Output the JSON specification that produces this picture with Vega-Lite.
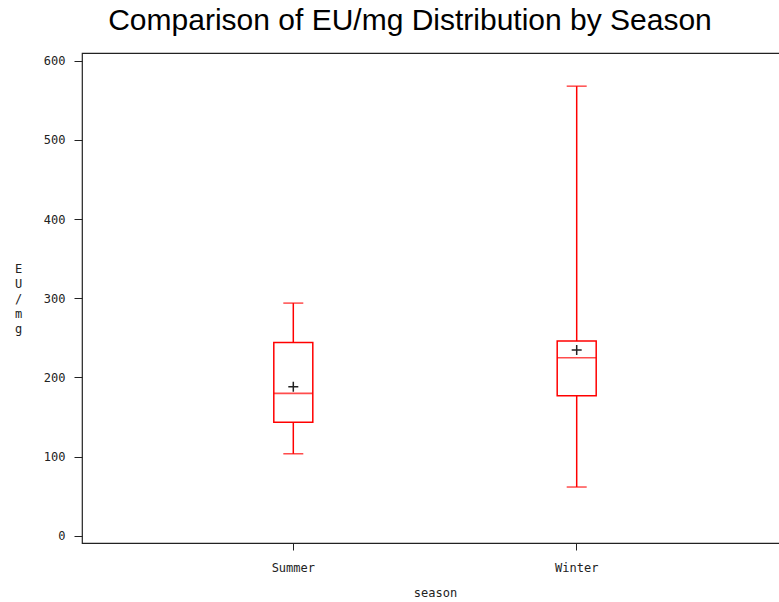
{
  "$schema": "https://vega.github.io/schema/vega-lite/v6.json",
  "autosize": "none",
  "width": 706,
  "height": 490,
  "padding": {"left": 82, "top": 53, "right": 0, "bottom": 59},
  "background": "white",
  "title": {
    "text": "Comparison of EU/mg Distribution by Season",
    "font": "Liberation Sans",
    "fontSize": 30,
    "fontWeight": "normal",
    "color": "black",
    "anchor": "middle",
    "dx": -25,
    "offset": 17
  },
  "config": {
    "view": {"stroke": "#222", "strokeWidth": 1.2},
    "axis": {
      "grid": false,
      "domain": false,
      "tickColor": "#222",
      "labelColor": "#222",
      "titleColor": "#222",
      "labelFont": "DejaVu Sans Mono",
      "titleFont": "DejaVu Sans Mono",
      "labelFontSize": 12,
      "titleFontSize": 12,
      "titleFontWeight": "normal"
    }
  },
  "data": {
    "values": [
      {"season": "Summer", "min": 103.5, "q1": 143.2, "median": 179.8, "q3": 244.2, "max": 293.8, "mean": 188.1},
      {"season": "Winter", "min": 61.5, "q1": 176.8, "median": 224.7, "q3": 245.8, "max": 567.8, "mean": 234.5}
    ]
  },
  "encoding": {
    "x": {
      "field": "season",
      "type": "nominal",
      "scale": {"type": "band", "paddingInner": 0, "paddingOuter": 0.2456},
      "axis": {
        "title": "season",
        "labelAngle": 0,
        "tickSize": 7,
        "labelPadding": 12,
        "titlePadding": 14
      }
    }
  },
  "layer": [
    {
      "mark": {"type": "rule", "color": "#ff0000", "strokeWidth": 1.5},
      "encoding": {
        "y": {
          "field": "min",
          "type": "quantitative",
          "scale": {"domain": [-9.2, 609.7], "nice": false, "zero": false},
          "axis": {
            "values": [0, 100, 200, 300, 400, 500, 600],
            "title": ["E", "U", "/", "m", "g"],
            "titleAngle": 0,
            "titleLineHeight": 15,
            "titleX": -64,
            "titleY": 222,
            "titleAlign": "center",
            "tickSize": 8,
            "labelPadding": 9
          }
        },
        "y2": {"field": "q1"}
      }
    },
    {
      "mark": {"type": "rule", "color": "#ff0000", "strokeWidth": 1.5},
      "encoding": {
        "y": {"field": "q3", "type": "quantitative"},
        "y2": {"field": "max"}
      }
    },
    {
      "mark": {"type": "bar", "size": 39, "fill": "white", "fillOpacity": 0, "stroke": "#ff0000", "strokeWidth": 1.5},
      "encoding": {
        "y": {"field": "q1", "type": "quantitative"},
        "y2": {"field": "q3"}
      }
    },
    {
      "mark": {"type": "tick", "size": 39, "thickness": 1.6, "color": "#ff0000"},
      "encoding": {"y": {"field": "median", "type": "quantitative"}}
    },
    {
      "mark": {"type": "tick", "size": 20, "thickness": 1.5, "color": "#ff0000"},
      "encoding": {"y": {"field": "min", "type": "quantitative"}}
    },
    {
      "mark": {"type": "tick", "size": 20, "thickness": 1.5, "color": "#ff0000"},
      "encoding": {"y": {"field": "max", "type": "quantitative"}}
    },
    {
      "mark": {"type": "point", "shape": "M-1,0H1M0,-1V1", "size": 100, "filled": false, "stroke": "#222", "strokeWidth": 1.5, "opacity": 1},
      "encoding": {"y": {"field": "mean", "type": "quantitative"}}
    }
  ]
}
